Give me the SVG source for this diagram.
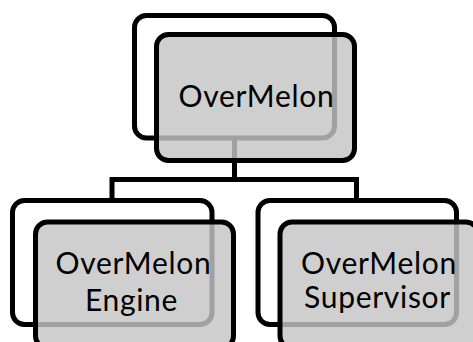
<svg xmlns="http://www.w3.org/2000/svg" width="473" height="342" viewBox="0 0 473 342">
  <style>
    .back { fill: #ffffff; stroke: #000000; stroke-width: 5; }
    .front { fill: #c4c4c4; fill-opacity: 0.82; stroke: #000000; stroke-width: 5; }
    .link { fill: none; stroke: #000000; stroke-width: 5; stroke-linejoin: miter; }
    .label { font-family: Lato, "Open Sans", sans-serif; font-size: 30px; letter-spacing: 0.7px; fill: #000000; text-anchor: middle; }
  </style>
  <rect width="473" height="342" fill="#ffffff"/>

  <!-- org-chart links from the root to its two children -->
  <g id="connectors">
    <path class="link" d="M234.5 137 V179.5 H112 V201"/>
    <path class="link" d="M234.5 179.5 H356.5 V201"/>
  </g>

  <g id="node-overmelon">
    <rect class="back" x="134.5" y="15.5" width="200" height="122.5" rx="12"/>
    <rect class="front" x="156.5" y="34.5" width="198" height="126" rx="12"/>
    <text class="label" x="256.5" y="107">OverMelon</text>
  </g>

  <g id="node-engine">
    <rect class="back" x="12.5" y="200.5" width="199.5" height="124" rx="12"/>
    <rect class="front" x="35.5" y="222" width="198" height="126" rx="12"/>
    <text class="label" x="133.5" y="273.5">OverMelon</text>
    <text class="label" x="131.5" y="310.5">Engine</text>
  </g>

  <g id="node-supervisor">
    <rect class="back" x="258" y="200.5" width="198.5" height="124" rx="12"/>
    <rect class="front" x="280" y="222" width="198" height="126" rx="12"/>
    <text class="label" x="379" y="273.5">OverMelon</text>
    <text class="label" x="377.5" y="308">Supervisor</text>
  </g>
</svg>
